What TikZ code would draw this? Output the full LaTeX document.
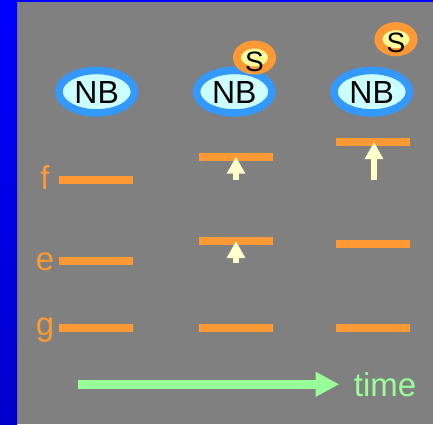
\documentclass[tikz,border=0pt]{standalone}
\usepackage{fontspec}
\setmainfont{Liberation Sans}
\usetikzlibrary{shapes.geometric,arrows.meta,calc}
\definecolor{bgray}{HTML}{808080}
\definecolor{bandtop}{HTML}{0000FF}
\definecolor{bandbot}{HTML}{0000CC}
\definecolor{lvl}{HTML}{FF9933}
\definecolor{nbring}{HTML}{3399FF}
\definecolor{nbfill}{HTML}{CCFFFF}
\definecolor{sfill}{HTML}{FFFF99}
\definecolor{upcol}{HTML}{FFFFCC}
\definecolor{timecol}{HTML}{99FF99}
\tikzset{
  nbell/.style={ellipse, draw=nbring, fill=nbfill, line width=7.5pt, minimum width=75.5pt, minimum height=42.5pt, inner sep=0pt},
  sell/.style={ellipse, draw=lvl, fill=sfill, line width=8pt, minimum width=35pt, minimum height=26pt, inner sep=0pt},
  bigtxt/.style={font=\fontsize{32}{32}\selectfont, inner sep=0pt, anchor=base},
  stxt/.style={font=\fontsize{28}{28}\selectfont, inner sep=0pt, anchor=base},
  lvltxt/.style={font=\fontsize{33}{33}\selectfont, text=lvl, inner sep=0pt, anchor=base},
  bar/.style={rectangle, fill=lvl, minimum width=74pt, minimum height=7.6pt, inner sep=0pt},
  uparrow/.style={draw=upcol, line width=6.7pt, -{Triangle[length=17pt,width=17.5pt]}},
  timearrow/.style={draw=timecol, line width=8.7pt, -{Triangle[length=23.6pt,width=23.3pt]}},
}
\begin{document}
\begin{tikzpicture}[x=1pt,y=-1pt]
\useasboundingbox (0,0) rectangle (433,424);
\fill[bgray] (0,0) rectangle (433,424);
\shade[top color=bandtop, bottom color=bandbot] (0,0) rectangle (17,424);
\fill[bandtop] (0,0) rectangle (433,2);
% NB ellipses
\node[nbell] (nb1) at (96.7,91.7) {};
\node[nbell] (nb2) at (234.3,91.7) {};
\node[nbell] (nb3) at (371.7,91.7) {};
\node[bigtxt] (nbt1) at ($(nb1.center)+(0,11.6)$) {NB};
\node[bigtxt] (nbt2) at ($(nb2.center)+(0,11.6)$) {NB};
\node[bigtxt] (nbt3) at ($(nb3.center)+(0,11.6)$) {NB};
% S ellipses
\node[sell] (s2) at (254.5,57.5) {};
\node[sell] (s3) at (396,39.2) {};
\node[stxt] (st2) at ($(s2.center)+(0,13.5)$) {S};
\node[stxt] (st3) at ($(s3.center)+(0,13.5)$) {S};
% level labels
\node[lvltxt] (lf) at (45,189.3) {f};
\node[lvltxt] (le) at (45,270.3) {e};
\node[lvltxt] (lg) at (45,335.5) {g};
% level bars
\node[bar] (f1) at (95.7,179.7) {};
\node[bar] (e1) at (95.7,260.7) {};
\node[bar] (g1) at (95.7,328) {};
\node[bar] (f2) at (235.9,156.7) {};
\node[bar] (e2) at (235.9,241) {};
\node[bar] (g2) at (235.9,328) {};
\node[bar] (f3) at (373.4,142) {};
\node[bar] (e3) at (373.4,244) {};
\node[bar] (g3) at (373.4,328) {};
% up arrows
\coordinate (a2f) at (236,180);
\coordinate (a2e) at (236,262.7);
\coordinate (a3f) at (374,180);
\draw[uparrow] (a2f) -- (a2f |- f2.center);
\draw[uparrow] (a2e) -- (a2e |- e2.center);
\draw[uparrow] (a3f) -- (a3f |- f3.center);
% time arrow
\coordinate (ts) at (78.3,384.3);
\coordinate (te) at (339.3,384.3);
\draw[timearrow] (ts) -- (te);
\node[font=\fontsize{33}{33}\selectfont, text=timecol, inner sep=0pt, anchor=base] (time) at (385,396) {time};
\end{tikzpicture}
\end{document}
